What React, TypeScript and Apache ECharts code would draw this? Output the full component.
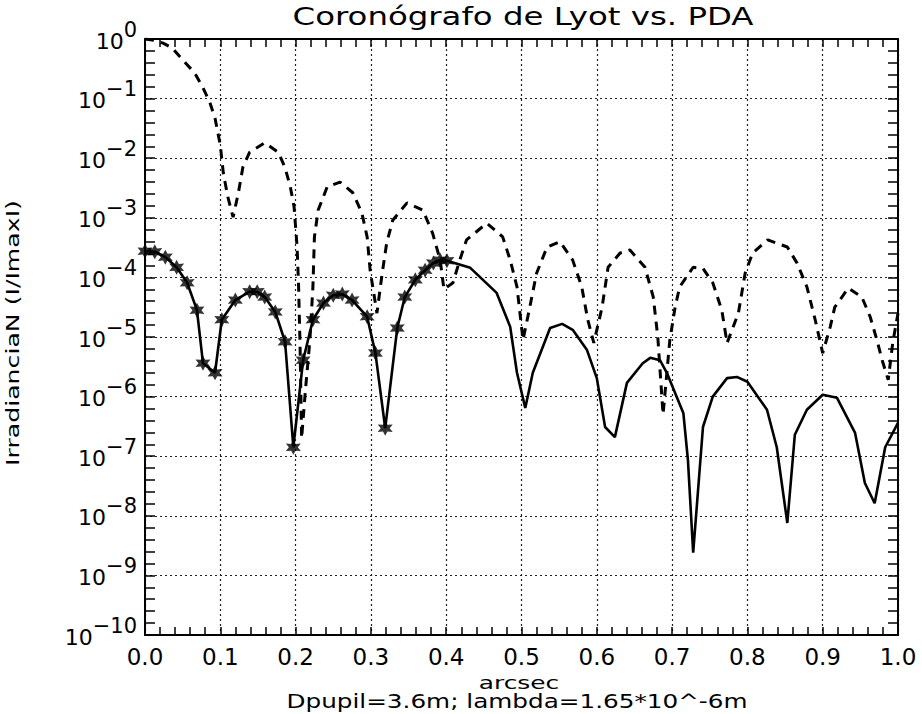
import { useEffect, useRef } from 'react';
import * as echarts from 'echarts';

const titleText = 'Coronógrafo de Lyot vs. PDA';
const yName = 'IrradianciaN (I/ImaxI)';
const xName = 'arcsec';
const subtitle = 'Dpupil=3.6m; lambda=1.65*10^-6m';

// Lyot (solid) curve: x in arcsec, value as log10(I/Imax)
const lyotX = [
  0.0, 0.013, 0.027, 0.042, 0.056, 0.069, 0.077, 0.093, 0.102, 0.12, 0.139, 0.149, 0.159, 0.173, 0.186,
  0.197, 0.21, 0.223, 0.237, 0.25, 0.262, 0.275, 0.295, 0.306, 0.319, 0.335, 0.345, 0.359, 0.372, 0.383,
  0.392, 0.401,
  0.432, 0.467, 0.485, 0.494, 0.505, 0.515, 0.538, 0.554, 0.568, 0.587, 0.6, 0.611, 0.624, 0.64, 0.661,
  0.671, 0.684, 0.693, 0.715, 0.721, 0.728, 0.741, 0.754, 0.773, 0.786, 0.8, 0.826, 0.839, 0.853, 0.863,
  0.879, 0.9, 0.919, 0.943, 0.956, 0.969, 0.983, 1.0,
];
const lyotLog10 = [
  -3.56, -3.57, -3.66, -3.83, -4.09, -4.55, -5.44, -5.6, -4.71, -4.38, -4.24, -4.24, -4.33, -4.58, -5.08,
  -6.85, -5.39, -4.71, -4.43, -4.3, -4.28, -4.38, -4.66, -5.27, -6.53, -4.85, -4.33, -4.04, -3.88, -3.76,
  -3.71, -3.72,
  -3.84, -4.26, -4.83, -5.6, -6.19, -5.6, -4.85, -4.78, -4.88, -5.22, -5.69, -6.51, -6.68, -5.77, -5.44,
  -5.35, -5.39, -5.6, -6.28, -7.06, -8.62, -6.51, -6.0, -5.69, -5.67, -5.75, -6.22, -6.85, -8.12, -6.64,
  -6.22, -5.97, -6.02, -6.61, -7.45, -7.79, -6.85, -6.44,
];
const starredCount = 32;

// PDA (dashed) curve
const pdaX = [
  0.0, 0.012, 0.024, 0.036, 0.05, 0.066, 0.077, 0.086, 0.093, 0.1, 0.104, 0.11, 0.117, 0.124, 0.13, 0.139,
  0.159, 0.177, 0.186, 0.193, 0.198, 0.202, 0.204, 0.206, 0.208, 0.213, 0.219, 0.223, 0.225, 0.23, 0.242,
  0.259, 0.276, 0.288, 0.295, 0.299, 0.308, 0.315, 0.321, 0.329, 0.348, 0.369, 0.382, 0.392, 0.397, 0.409,
  0.418, 0.427, 0.454, 0.475, 0.485, 0.494, 0.502, 0.511, 0.52, 0.534, 0.551, 0.568, 0.58, 0.588, 0.596,
  0.607, 0.615, 0.631, 0.644, 0.664, 0.675, 0.681, 0.688, 0.697, 0.704, 0.71, 0.728, 0.741, 0.754, 0.766,
  0.773, 0.788, 0.797, 0.807, 0.827, 0.853, 0.866, 0.879, 0.89, 0.9, 0.91, 0.916, 0.934, 0.952, 0.963,
  0.972, 0.979, 0.987, 0.993, 1.0,
];
const pdaLog10 = [
  0.0, -0.02, -0.07, -0.15, -0.35, -0.57, -0.82, -1.06, -1.33, -1.78, -2.25, -2.65, -2.99, -2.58, -2.15, -1.9,
  -1.74, -1.9, -2.16, -2.48, -2.82, -3.49, -4.16, -5.2, -6.7, -5.9, -5.05, -4.16, -3.32, -2.87, -2.48,
  -2.4, -2.58, -2.92, -3.32, -3.88, -4.6, -3.93, -3.42, -3.04, -2.75, -2.87, -3.26, -3.71, -4.2, -4.09,
  -3.71, -3.37, -3.09, -3.32, -3.71, -4.16, -5.05, -4.5, -3.93, -3.49, -3.4, -3.71, -4.16, -4.71, -5.1,
  -4.5, -3.83, -3.59, -3.54, -3.83, -4.33, -5.0, -6.3, -5.05, -4.5, -4.16, -3.83, -3.85, -4.09, -4.55,
  -5.1, -4.6, -3.93, -3.59, -3.37, -3.49, -3.76, -4.16, -4.71, -5.27, -4.83, -4.5, -4.18, -4.33, -4.66,
  -5.05, -5.39, -5.72, -5.1, -4.6,
];

const xTickLabels = ['0.0', '0.1', '0.2', '0.3', '0.4', '0.5', '0.6', '0.7', '0.8', '0.9', '1.0'];

const FONT = 'DejaVu Sans';
const starPath =
  'path://M0,-10 L2.6,-4.5 L8.7,-5 L5.2,0 L8.7,5 L2.6,4.5 L0,10 L-2.6,4.5 L-8.7,5 L-5.2,0 L-8.7,-5 L-2.6,-4.5 Z';

export default function App() {
  const ref = useRef<HTMLDivElement>(null);
  useEffect(() => {
    if (!ref.current) return;
    const chart = echarts.init(ref.current, undefined, { renderer: 'svg' });
    const lyot = lyotX.map((x, i) => [x, lyotLog10[i]]);
    const pda = pdaX.map((x, i) => [x, pdaLog10[i]]);
    const grid = { left: 145, right: 24, top: 39, bottom: 79 };
    const dotted = { show: true, lineStyle: { color: '#222', width: 1.2, type: [2, 3] } };
    const baseX = {
      type: 'value',
      min: 0,
      max: 1,
      interval: 0.1,
      axisLine: { show: true, onZero: false, lineStyle: { color: '#000', width: 2 } },
      axisTick: { show: true, inside: true, length: 8, lineStyle: { color: '#000', width: 1.5 } },
      minorTick: { show: true, splitNumber: 5, length: 8, lineStyle: { color: '#000', width: 1.5 } },
    };
    const baseY = {
      type: 'value',
      min: -10,
      max: 0,
      interval: 1,
      axisLine: { show: true, onZero: false, lineStyle: { color: '#000', width: 2 } },
      axisTick: { show: true, inside: true, length: 10, lineStyle: { color: '#000', width: 1.5 } },
      minorTick: { show: true, splitNumber: 5, length: 10, lineStyle: { color: '#000', width: 1.5 } },
    };
    chart.setOption({
      animation: false,
      backgroundColor: '#fff',
      grid,
      xAxis: [
        {
          ...baseX,
          position: 'bottom',
          splitLine: dotted,
          axisLabel: {
            show: true,
            margin: 10,
            fontFamily: FONT,
            fontSize: 23,
            color: '#000',
            formatter: (v: number) => xTickLabels[Math.round(v * 10)] ?? '',
          },
        },
        {
          ...baseX,
          position: 'top',
          splitLine: { show: false },
          axisLabel: { show: false },
        },
      ],
      yAxis: [
        {
          ...baseY,
          position: 'left',
          splitLine: dotted,
          axisLabel: {
            show: true,
            margin: 8,
            padding: [4, 0, 0, 0],
            formatter: (v: number) => {
              const n = Math.round(v);
              return `{a|10}{b|${n === 0 ? '0' : '\u2212' + -n}}`;
            },
            rich: {
              a: {
                fontFamily: FONT,
                fontSize: 22,
                lineHeight: 44,
                verticalAlign: 'middle',
                color: '#000',
              },
              b: {
                fontFamily: FONT,
                fontSize: 21,
                lineHeight: 20,
                verticalAlign: 'top',
                color: '#000',
              },
            },
          },
        },
        {
          ...baseY,
          position: 'right',
          splitLine: { show: false },
          axisLabel: { show: false },
        },
      ],
      graphic: [
        {
          type: 'text',
          x: 523,
          y: 17,
          scaleX: 1.35,
          style: {
            text: titleText,
            fontFamily: FONT,
            fontSize: 24,
            fill: '#000',
            align: 'center',
            verticalAlign: 'middle',
          },
        },
        {
          type: 'text',
          x: 13,
          y: 333,
          rotation: Math.PI / 2,
          scaleX: 1.4,
          style: {
            text: yName,
            fontFamily: FONT,
            fontSize: 18,
            fill: '#000',
            align: 'center',
            verticalAlign: 'middle',
          },
        },
        {
          type: 'text',
          x: 519,
          y: 683,
          scaleX: 1.38,
          style: {
            text: xName,
            fontFamily: FONT,
            fontSize: 18,
            fill: '#000',
            align: 'center',
            verticalAlign: 'middle',
          },
        },
        {
          type: 'text',
          x: 517,
          y: 702,
          scaleX: 1.3,
          style: {
            text: subtitle,
            fontFamily: FONT,
            fontSize: 19,
            fill: '#000',
            align: 'center',
            verticalAlign: 'middle',
          },
        },
      ],
      series: [
        {
          type: 'line',
          name: 'PDA',
          data: pda,
          showSymbol: false,
          clip: true,
          lineStyle: { color: '#000', width: 3, type: [9, 7] },
        },
        {
          type: 'line',
          name: 'Lyot',
          data: lyot,
          showSymbol: false,
          clip: true,
          lineStyle: { color: '#000', width: 2.6 },
        },
        {
          type: 'scatter',
          name: 'Lyot samples',
          data: lyot.slice(0, starredCount),
          symbol: starPath,
          symbolSize: 15,
          itemStyle: { color: '#000' },
        },
      ],
    });
    return () => chart.dispose();
  }, []);
  return (
    <div
      ref={ref}
      style={{ position: 'absolute', left: 0, top: 0, width: 922, height: 714, background: '#fff' }}
    />
  );
}
